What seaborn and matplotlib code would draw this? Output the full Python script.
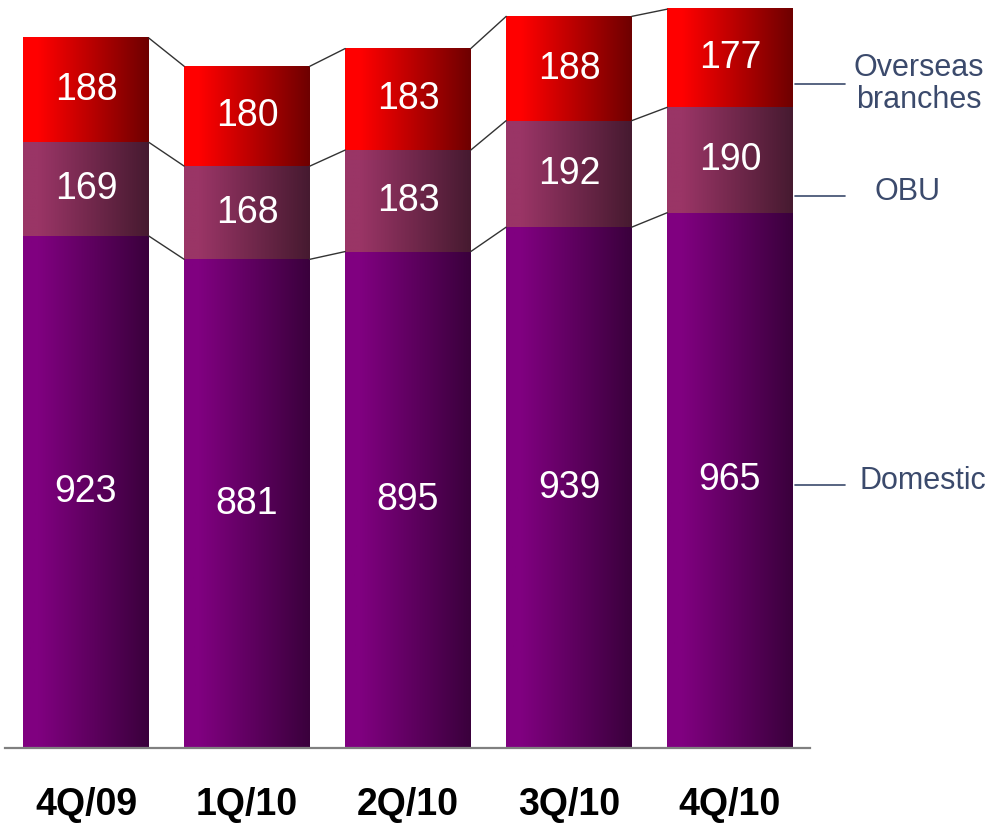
import numpy as np
import pandas as pd
import matplotlib.pyplot as plt
import seaborn as sns
from matplotlib.lines import Line2D
from matplotlib.colors import to_rgb

plt.switch_backend('Agg')

quarters = ['4Q/09', '1Q/10', '2Q/10', '3Q/10', '4Q/10']
domestic = [923, 881, 895, 939, 965]
obu = [169, 168, 183, 192, 190]
overseas = [188, 180, 183, 188, 177]
segment_names = ['Domestic', 'OBU', 'Overseas\nbranches']

# gradient colours (left -> right) per segment
grad_cols = [('#800080', '#3a003c'),
             ('#9a3566', '#461a30'),
             ('#ff0000', '#6e0000')]

sns.set_style('white')
plt.rcParams['font.family'] = ['Liberation Sans', 'DejaVu Sans']

W, H = 991, 824
fig = plt.figure(figsize=(W / 100, H / 100), dpi=100)
ax = fig.add_axes([5 / W, 76 / H, 805 / W, 748 / H])

dom = np.array(domestic)
mid = dom + np.array(obu)
top = mid + np.array(overseas)

df = pd.DataFrame({'quarter': quarters, 'dom': dom, 'mid': mid, 'top': top})
# draw tallest first so the stack shows through
for col in ['top', 'mid', 'dom']:
    sns.barplot(data=df, x='quarter', y=col, ax=ax, width=0.78,
                color='white', linewidth=0, saturation=1)

ax.set_xlim(-0.503, 4.497)
ax.set_ylim(0, 748 / (710 / 1280))

n = len(quarters)
patches = ax.patches
groups = [patches[2 * n:3 * n], patches[n:2 * n], patches[0:n]]  # dom, mid, top


def gradient(c0, c1):
    a, b = np.array(to_rgb(c0)), np.array(to_rgb(c1))
    t = np.linspace(0, 1, 256)
    t = np.clip((t - 0.12) / 0.88, 0, 1)
    return (a[None, :] * (1 - t[:, None]) + b[None, :] * t[:, None])[None, :, :]


for k, grp in enumerate(groups):
    img = gradient(*grad_cols[k])
    for i, p in enumerate(grp):
        x0 = p.get_x()
        x1 = x0 + p.get_width()
        y1 = p.get_height()
        y0 = 0 if k == 0 else groups[k - 1][i].get_height()
        ax.imshow(img, extent=(x0, x1, y0, y1), aspect='auto',
                  interpolation='bilinear', zorder=3)
        val = [domestic, obu, overseas][k][i]
        ax.text((x0 + x1) / 2, (y0 + y1) / 2, str(val), ha='center',
                va='center', color='white', fontsize=27, zorder=5)
    # connector lines between neighbouring bars
    for i in range(n - 1):
        a, b = grp[i], grp[i + 1]
        ax.plot([a.get_x() + a.get_width(), b.get_x()],
                [a.get_height(), b.get_height()], color='#333333',
                lw=1, zorder=4)

sns.despine(ax=ax, left=True, top=True, right=True)
ax.spines['bottom'].set_color('#808080')
ax.spines['bottom'].set_linewidth(1.6)
ax.spines['bottom'].set_zorder(6)
ax.set_yticks([])
ax.set_xlabel('')
ax.set_ylabel('')
ax.tick_params(axis='x', length=0, pad=28)
for lab in ax.get_xticklabels():
    lab.set_fontfamily(['Liberation Sans Narrow', 'Liberation Sans'])
    lab.set_fontweight('bold')
    lab.set_fontsize(27)
    lab.set_color('black')

# right-hand segment labels
label_col = '#3b4a6c'
ann = [(485, 923, 481), (196, 907, 192), (84, 919, 84)]
for name, (ly, tx, ty) in zip(segment_names, ann):
    fig.add_artist(Line2D([795 / W, 845 / W], [1 - ly / H, 1 - ly / H],
                          color=label_col, lw=1.2))
    fig.text(tx / W, 1 - ty / H, name, ha='center', va='center',
             color=label_col, fontsize=22, linespacing=1.1)

fig.savefig('out.png', dpi=100)
